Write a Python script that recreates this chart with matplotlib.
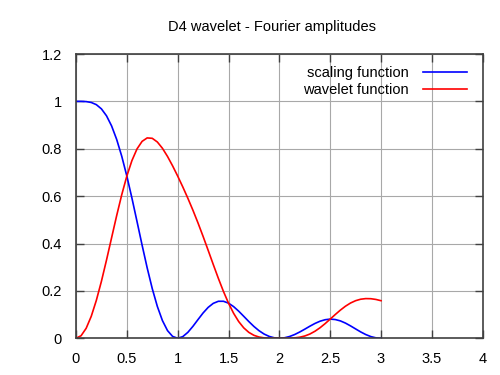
import numpy as np
import matplotlib
matplotlib.use('Agg')
import matplotlib.pyplot as plt
from matplotlib.ticker import FuncFormatter

plt.rcParams['font.family'] = ['Liberation Sans', 'DejaVu Sans']
plt.rcParams['font.size'] = 10.5

# frequency axis (same grid for both curves)
freq = [0.0, 0.05, 0.1, 0.15, 0.2, 0.25, 0.3, 0.35, 0.4, 0.45,
        0.5, 0.55, 0.6, 0.65, 0.7, 0.75, 0.8, 0.85, 0.9, 0.95,
        1.0, 1.05, 1.1, 1.15, 1.2, 1.25, 1.3, 1.35, 1.4, 1.45,
        1.5, 1.55, 1.6, 1.65, 1.7, 1.75, 1.8, 1.85, 1.9, 1.95,
        2.0, 2.05, 2.1, 2.15, 2.2, 2.25, 2.3, 2.35, 2.4, 2.45,
        2.5, 2.55, 2.6, 2.65, 2.7, 2.75, 2.8, 2.85, 2.9, 2.95, 3.0]

# |phi_hat| - scaling function
scaling = [1.0, 0.99994, 0.99906, 0.9954, 0.98618, 0.96833, 0.9391, 0.89643, 0.83935, 0.76823,
           0.68471, 0.59169, 0.49302, 0.39326, 0.29722, 0.20956, 0.13433, 0.07464, 0.0323, 0.00775,
           0.0, 0.0068, 0.02488, 0.0503, 0.07891, 0.10674, 0.13039, 0.14732, 0.15604, 0.15612,
           0.14818, 0.1336, 0.11433, 0.09256, 0.07042, 0.04973, 0.03188, 0.01775, 0.00774, 0.00189,
           0.0, 0.0019, 0.0073, 0.0156, 0.0263, 0.0383, 0.0508, 0.0624, 0.0719, 0.0782,
           0.0808, 0.079, 0.0733, 0.064, 0.0522, 0.0394, 0.0267, 0.0156, 0.007, 0.0017, 0.0]

# |psi_hat| - wavelet function
wavelet = [0.0, 0.01064, 0.04204, 0.09263, 0.1599, 0.24041, 0.33003, 0.42411, 0.51774, 0.60608,
           0.68471, 0.75, 0.79928, 0.8312, 0.84573, 0.84407, 0.82853, 0.80202, 0.76755, 0.72784,
           0.68471, 0.63915, 0.59117, 0.54047, 0.48666, 0.42993, 0.37101, 0.31138, 0.25296, 0.19789,
           0.14818, 0.1054, 0.07052, 0.04379, 0.02475, 0.01235, 0.00517, 0.00165, 0.00033, 0.00002,
           0.0, 0.0, 0.0003, 0.0015, 0.0043, 0.0095, 0.0178, 0.0295, 0.0443, 0.0617,
           0.0808, 0.1002, 0.1187, 0.1352, 0.1487, 0.1586, 0.1648, 0.1674, 0.1669, 0.1638, 0.1585]

xticks = [0, 0.5, 1, 1.5, 2, 2.5, 3, 3.5, 4]
yticks = [0, 0.2, 0.4, 0.6, 0.8, 1.0, 1.2]

fig = plt.figure(figsize=(5, 3.75), dpi=100)
ax = fig.add_axes([0.152, 0.098, 0.8134, 0.758])

ax.plot(freq, scaling, color='#0000ff', lw=1.2, label='scaling function')
ax.plot(freq, wavelet, color='#ff0000', lw=1.2, label='wavelet function')

ax.set_xlim(0, 4)
ax.set_ylim(0, 1.2)
ax.set_xticks(xticks)
ax.set_yticks(yticks)
fmt = FuncFormatter(lambda v, p: '%g' % v)
ax.xaxis.set_major_formatter(fmt)
ax.yaxis.set_major_formatter(fmt)

ax.grid(True, color='#a8a8a8', lw=0.8)
ax.set_axisbelow(True)
ax.tick_params(direction='in', length=6, width=1.0, color='#404040',
               top=True, right=True, pad=10, labelsize=10.5)
for sp in ax.spines.values():
    sp.set_color('#404040')
    sp.set_linewidth(1.2)

# gnuplot-style key: text right-aligned, sample line after it
ax.legend(loc='upper right', bbox_to_anchor=(0.99, 1.0), frameon=False,
          markerfirst=False, handlelength=3.0, handletextpad=1.0,
          labelspacing=0.25, borderaxespad=0.4, fontsize=10.5)

fig.text(0.545, 1 - 27 / 375, 'D4 wavelet - Fourier amplitudes',
         ha='center', va='center', fontsize=10.5)

fig.savefig('out.png', dpi=100)
